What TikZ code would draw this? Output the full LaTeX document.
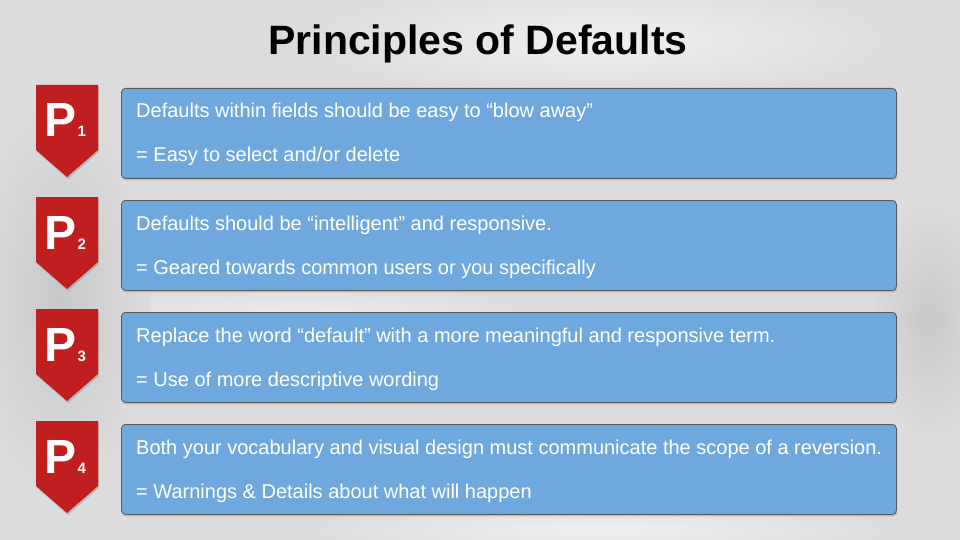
\documentclass[tikz,border=0pt]{standalone}
\usepackage{fontspec}
\setmainfont{Liberation Sans}
\definecolor{boxblue}{RGB}{111, 168, 220}
\definecolor{boxedge}{RGB}{90, 90, 90}
\definecolor{badgered}{RGB}{193, 31, 31}
\definecolor{bggray}{RGB}{220, 220, 220}
\definecolor{bglight}{RGB}{240, 240, 240}
\definecolor{bgdark}{RGB}{200, 200, 200}
\usetikzlibrary{shadows, positioning}

\tikzset{
  rulebox/.style={draw=boxedge, fill=boxblue, rounded corners=4pt, line width=0.8pt,
    minimum width=775pt, minimum height=90pt, anchor=north west, inner sep=0pt,
    drop shadow={shadow xshift=1pt, shadow yshift=-2pt, opacity=0.35}},
  badge/.style={fill=badgered, drop shadow={shadow xshift=1pt, shadow yshift=-2pt, opacity=0.35}},
  ptext/.style={text=white, font=\fontsize{48}{48}\selectfont\bfseries, anchor=base west, inner sep=0pt},
  pnum/.style={text=white, font=\fontsize{15}{15}\selectfont\bfseries, anchor=base west, inner sep=0pt},
  line/.style={text=white, font=\fontsize{20}{20}\selectfont, anchor=base west, inner sep=0pt},
  blob/.style={inner color=#1, outer color=bggray}
}

\begin{document}
\begin{tikzpicture}[x=1pt, y=-1pt]
  % Background (soft blurred photo)
  \fill[bggray] (0,0) rectangle (960,540);
  \useasboundingbox (0,0) rectangle (960,540);
  \shade[blob=bglight] (600,40) ellipse (300 and 60);
  \shade[blob=bglight] (300,330) ellipse (260 and 50);
  \shade[blob=bgdark] (60,300) ellipse (90 and 200);
  \shade[blob=bgdark] (930,320) ellipse (60 and 120);
  \shade[blob=bglight] (600,530) ellipse (300 and 30);

  % Title
  \node[font=\fontsize{41}{41}\selectfont\bfseries, anchor=base, inner sep=0pt] (title) at (478,55) {Principles of Defaults};

  % Principle 1
  \fill[badge] (36,85) -- (98,85) -- (98,150) -- (67,177) -- (36,150) -- cycle;
  \node[ptext] (p1) at (44,137) {P};
  \node[pnum, right=1pt of p1.base east, anchor=base west] (n1) {1};
  \node[rulebox] (box1) at (121,88) {};
  \node[line] (a1) at ([shift={(15,30)}]box1.north west) {Defaults within fields should be easy to “blow away”};
  \node[line] (b1) at ([shift={(15,74)}]box1.north west) {= Easy to select and/or delete};

  % Principle 2
  \fill[badge] (36,197) -- (98,197) -- (98,262) -- (67,289) -- (36,262) -- cycle;
  \node[ptext] (p2) at (44,249) {P};
  \node[pnum, right=1pt of p2.base east, anchor=base west] (n2) {2};
  \node[rulebox] (box2) at (121,200) {};
  \node[line] (a2) at ([shift={(15,30)}]box2.north west) {Defaults should be “intelligent” and responsive.};
  \node[line] (b2) at ([shift={(15,74)}]box2.north west) {= Geared towards common users or you specifically};

  % Principle 3
  \fill[badge] (36,309) -- (98,309) -- (98,374) -- (67,401) -- (36,374) -- cycle;
  \node[ptext] (p3) at (44,361) {P};
  \node[pnum, right=1pt of p3.base east, anchor=base west] (n3) {3};
  \node[rulebox] (box3) at (121,312) {};
  \node[line] (a3) at ([shift={(15,30)}]box3.north west) {Replace the word “default” with a more meaningful and responsive term.};
  \node[line] (b3) at ([shift={(15,74)}]box3.north west) {= Use of more descriptive wording};

  % Principle 4
  \fill[badge] (36,421) -- (98,421) -- (98,486) -- (67,513) -- (36,486) -- cycle;
  \node[ptext] (p4) at (44,473) {P};
  \node[pnum, right=1pt of p4.base east, anchor=base west] (n4) {4};
  \node[rulebox] (box4) at (121,424) {};
  \node[line] (a4) at ([shift={(15,30)}]box4.north west) {Both your vocabulary and visual design must communicate the scope of a reversion.};
  \node[line] (b4) at ([shift={(15,74)}]box4.north west) {= Warnings \& Details about what will happen};
\end{tikzpicture}
\end{document}
